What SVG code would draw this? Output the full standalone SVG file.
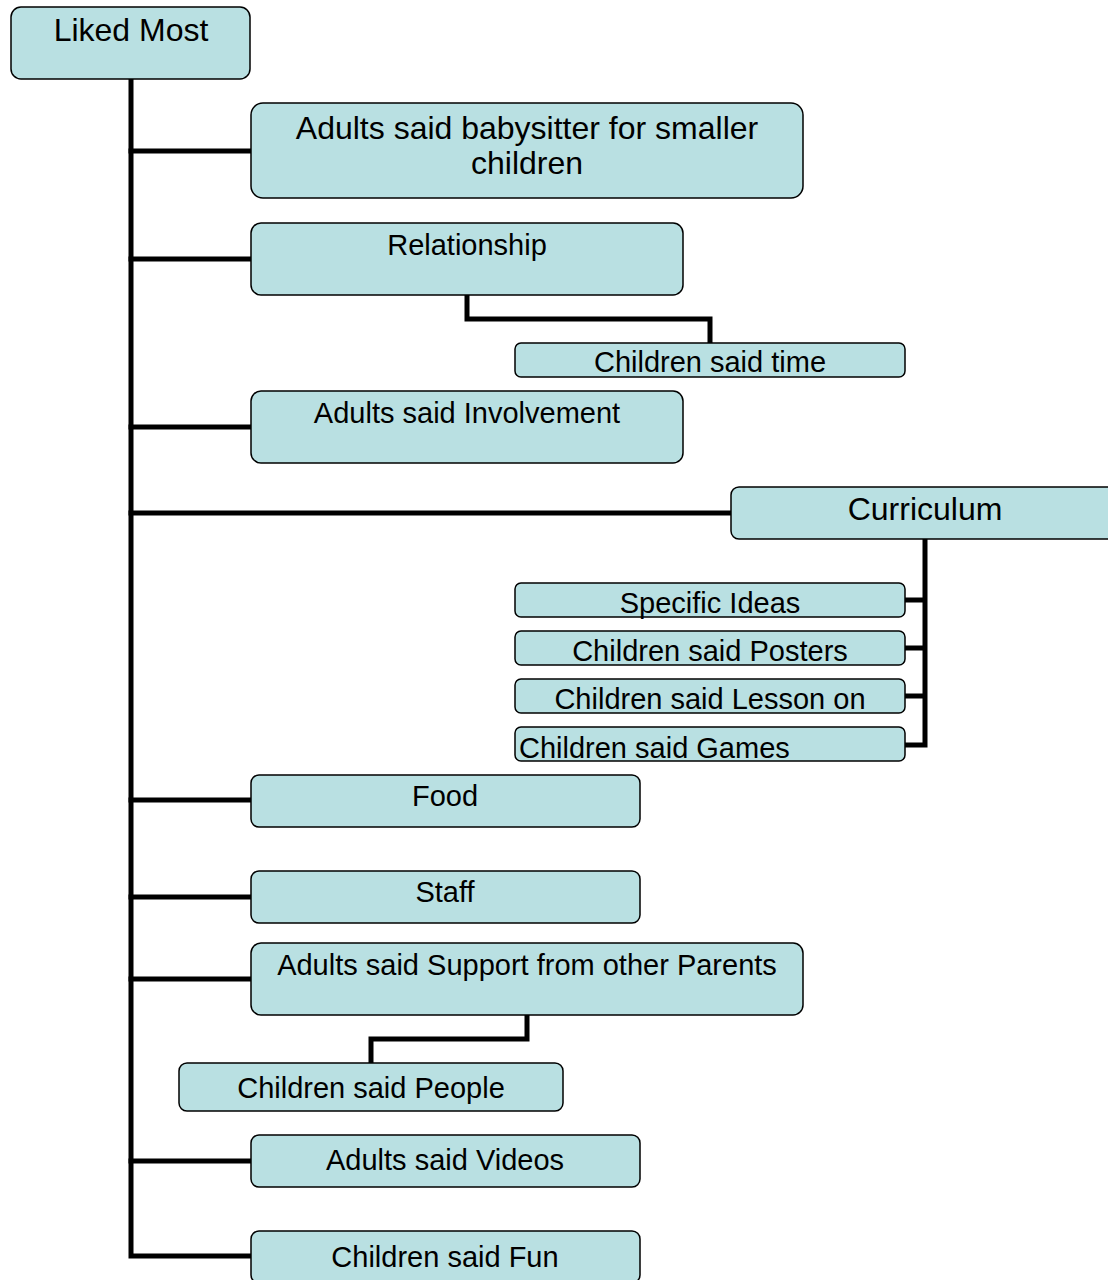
<svg xmlns="http://www.w3.org/2000/svg" width="1108" height="1280" viewBox="0 0 1108 1280">
<style>
.box{fill:#b9e0e2;stroke:#000;stroke-width:1.5}
.t{font-family:"Liberation Sans",Arial,sans-serif;font-size:29px;fill:#000;text-anchor:middle}
.big{font-size:32px}
.c{fill:none;stroke:#000;stroke-width:5;stroke-linejoin:miter;stroke-linecap:square}
</style>
<rect width="1108" height="1280" fill="#fff"/>
<g id="connectors">
<path class="c" d="M131,79 V1256 H251"/>
<path class="c" d="M131,151 H251 M131,259 H251 M131,427 H251 M131,513 H731 M131,800 H251 M131,897 H251 M131,979 H251 M131,1161 H251"/>
<path class="c" d="M467,295 V319 H710 V343"/>
<path class="c" d="M925,539 V745 H905 M905,600 H925 M905,648 H925 M905,696 H925"/>
<path class="c" d="M527,1015 V1039 H371 V1063"/>
</g>
<g id="n-root"><rect class="box" x="11" y="7" width="239" height="72" rx="10"/><text class="t big" x="131" y="41">Liked Most</text></g>
<g id="n-babysitter"><rect class="box" x="251" y="103" width="552" height="95" rx="12"/><text class="t big" x="527" y="139">Adults said babysitter for smaller</text><text class="t big" x="527" y="174">children</text></g>
<g id="n-relationship"><rect class="box" x="251" y="223" width="432" height="72" rx="10"/><text class="t" x="467" y="255">Relationship</text></g>
<g id="n-time"><rect class="box" x="515" y="343" width="390" height="34" rx="6"/><text class="t" x="710" y="372">Children said time</text></g>
<g id="n-involvement"><rect class="box" x="251" y="391" width="432" height="72" rx="10"/><text class="t" x="467" y="423">Adults said Involvement</text></g>
<g id="n-curriculum"><rect class="box" x="731" y="487" width="385" height="52" rx="8"/><text class="t big" x="925" y="520">Curriculum</text></g>
<g id="n-ideas"><rect class="box" x="515" y="583" width="390" height="34" rx="6"/><text class="t" x="710" y="613">Specific Ideas</text></g>
<g id="n-posters"><rect class="box" x="515" y="631" width="390" height="34" rx="6"/><text class="t" x="710" y="661">Children said Posters</text></g>
<g id="n-lesson"><rect class="box" x="515" y="679" width="390" height="34" rx="6"/><text class="t" x="710" y="709">Children said Lesson on</text></g>
<g id="n-games"><rect class="box" x="515" y="727" width="390" height="34" rx="6"/><text class="t" x="519" y="758" style="text-anchor:start">Children said Games</text></g>
<g id="n-food"><rect class="box" x="251" y="775" width="389" height="52" rx="8"/><text class="t" x="445" y="806">Food</text></g>
<g id="n-staff"><rect class="box" x="251" y="871" width="389" height="52" rx="8"/><text class="t" x="445" y="902">Staff</text></g>
<g id="n-support"><rect class="box" x="251" y="943" width="552" height="72" rx="10"/><text class="t" x="527" y="975">Adults said Support from other Parents</text></g>
<g id="n-people"><rect class="box" x="179" y="1063" width="384" height="48" rx="8"/><text class="t" x="371" y="1098">Children said People</text></g>
<g id="n-videos"><rect class="box" x="251" y="1135" width="389" height="52" rx="8"/><text class="t" x="445" y="1170">Adults said Videos</text></g>
<g id="n-fun"><rect class="box" x="251" y="1231" width="389" height="52" rx="8"/><text class="t" x="445" y="1267">Children said Fun</text></g>
</svg>
